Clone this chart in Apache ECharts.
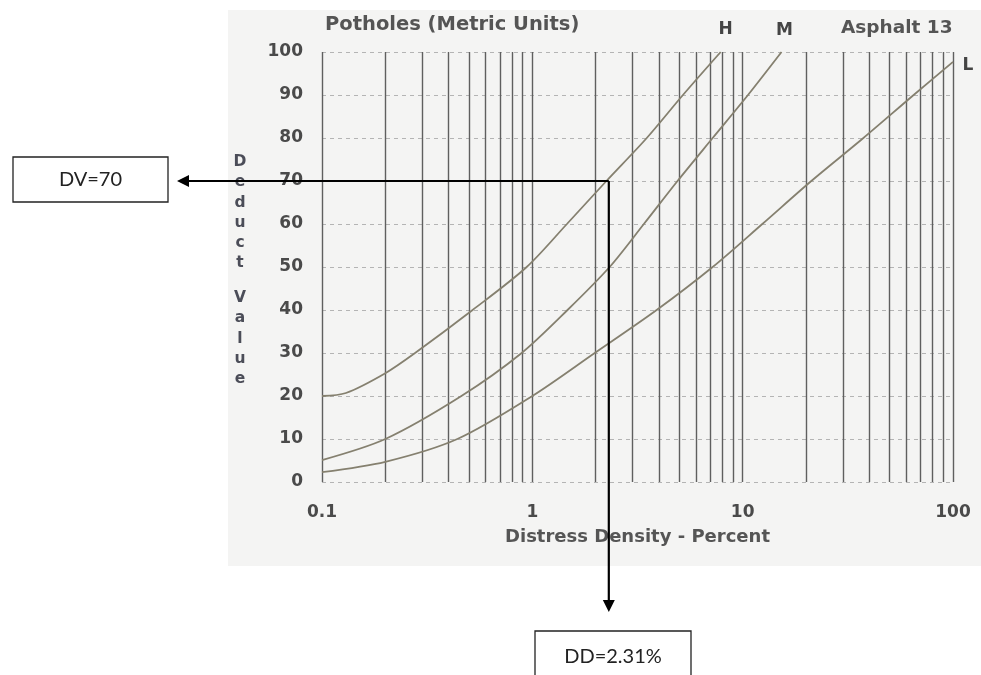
<!DOCTYPE html>
<html>
<head>
<meta charset="utf-8">
<script src="https://cdn.jsdelivr.net/npm/echarts@6/dist/echarts.min.js"></script>
<style>
html,body{margin:0;padding:0;background:#fff;}
#c{width:981px;height:675px;}
</style>
</head>
<body>
<div id="c"></div>
<script>
// ---- data ----
const hX = [0.1, 0.13, 0.2, 0.277, 0.52, 0.94, 1.46, 2.25, 3.5, 5.2, 7.86];
const hY = [20, 20.7, 25.3, 30, 40, 50, 60, 70, 80, 90, 100];
const mX = [0.1, 0.2, 0.46, 0.89, 1.47, 2.33, 3.39, 4.9, 7.2, 10.6, 15.3];
const mY = [5.1, 10, 20, 30, 40, 50, 60, 70, 80, 90, 100];
const lX = [0.1, 0.2, 0.44, 1.0, 1.98, 3.9, 7.2, 12.4, 21.2, 37.5, 65, 100];
const lY = [2.3, 4.7, 10, 20, 30, 40, 50, 60, 70, 80, 90, 97.7];
const gridX = [0.1,0.2,0.3,0.4,0.5,0.6,0.7,0.8,0.9,1,2,3,4,5,6,7,8,9,10,20,30,40,50,60,70,80,90,100];
const seriesNames = ['H', 'M', 'L'];
const ddValue = 2.31;
const dvValue = 70;
const titleText = 'Potholes (Metric Units)';
const subText = 'Asphalt 13';
const xName = 'Distress Density - Percent';
const yNameWords = ['Deduct', 'Value'];

const pair = (xs, ys) => xs.map((x, i) => [x, ys[i]]);
const FONT = 'DejaVu Sans';
const curveColor = '#85806f';

const chart = echarts.init(document.getElementById('c'), null, {renderer: 'canvas'});
const curveStyle = {color: curveColor, width: 1.8};

chart.setOption({
  animation: false,
  backgroundColor: '#ffffff',
  grid: {left: 322, right: 28, top: 52, bottom: 193, containLabel: false},
  title: [
    {text: titleText, left: 320, top: 10,
     textStyle: {fontFamily: FONT, fontWeight: 'bold', fontSize: 19.5, color: '#555'}},
    {text: subText, left: 836, top: 14,
     textStyle: {fontFamily: FONT, fontWeight: 'bold', fontSize: 18.5, color: '#555'}}
  ],
  xAxis: {
    type: 'log', logBase: 10, min: 0.1, max: 100,
    name: xName, nameLocation: 'middle', nameGap: 46,
    nameTextStyle: {fontFamily: FONT, fontWeight: 'bold', fontSize: 18, color: '#555'},
    axisLine: {show: false}, axisTick: {show: false},
    splitLine: {show: false},
    axisLabel: {margin: 22, fontFamily: FONT, fontWeight: 'bold', fontSize: 17, color: '#4a4a4a',
      formatter: v => String(+Number(v).toPrecision(3))}
  },
  yAxis: {
    type: 'value', min: 0, max: 100, interval: 10,
    axisLine: {show: false}, axisTick: {show: false},
    splitLine: {show: true, lineStyle: {color: '#b4b4b4', type: [4, 4], width: 1}},
    axisLabel: {margin: 19, fontFamily: FONT, fontWeight: 'bold', fontSize: 17, color: '#4a4a4a'}
  },
  series: [
    {type: 'line', name: 'grid', data: [], silent: true,
     markLine: {silent: true, symbol: ['none', 'none'], label: {show: false},
       lineStyle: {color: '#5f5f5f', type: 'solid', width: 1.4},
       emphasis: {disabled: true},
       data: gridX.map(v => ({xAxis: v}))}},
    {type: 'line', name: seriesNames[0], data: pair(hX, hY), smooth: 0.3, showSymbol: false, lineStyle: curveStyle, z: 5},
    {type: 'line', name: seriesNames[1], data: pair(mX, mY), smooth: 0.3, showSymbol: false, lineStyle: curveStyle, z: 5},
    {type: 'line', name: seriesNames[2], data: pair(lX, lY), smooth: 0.3, showSymbol: false, lineStyle: curveStyle, z: 5}
  ]
});

// annotations positioned via the chart's own scales
const p = chart.convertToPixel({gridIndex: 0}, [ddValue, dvValue]);
const hEnd = chart.convertToPixel({gridIndex: 0}, [hX[hX.length - 1], hY[hY.length - 1]]);
const mEnd = chart.convertToPixel({gridIndex: 0}, [mX[mX.length - 1], mY[mY.length - 1]]);
const lEnd = chart.convertToPixel({gridIndex: 0}, [lX[lX.length - 1], lY[lY.length - 1]]);
const arrowLeftTip = 177, arrowDownTip = 612;
const ah = 12, aw = 6;
const lblStyle = {fontFamily: FONT, fontWeight: 'bold', fontSize: 17, fill: '#444', align: 'center', verticalAlign: 'middle'};
const boxText = {fontFamily: 'Lato', fontSize: 20, fill: '#222', align: 'center', verticalAlign: 'middle'};
const yNameStyle = {fontFamily: FONT, fontWeight: 'bold', fontSize: 15.5, lineHeight: 20.2, fill: '#4b4d58',
  align: 'center', verticalAlign: 'top'};

chart.setOption({
  graphic: [
    {type: 'rect', z: -10, silent: true, shape: {x: 228, y: 10, width: 753, height: 556}, style: {fill: '#f4f4f3'}},
    // y-axis vertical title (stacked letters)
    {type: 'text', x: 240, y: 152, z: 10,
     style: Object.assign({text: yNameWords[0].split('').join('\n')}, yNameStyle)},
    {type: 'text', x: 240, y: 288, z: 10,
     style: Object.assign({text: yNameWords[1].split('').join('\n')}, yNameStyle)},
    // curve end labels
    {type: 'text', x: hEnd[0] + 5, y: hEnd[1] - 22, z: 10, style: Object.assign({text: seriesNames[0]}, lblStyle)},
    {type: 'text', x: mEnd[0] + 3, y: mEnd[1] - 21, z: 10, style: Object.assign({text: seriesNames[1]}, lblStyle)},
    {type: 'text', x: lEnd[0] + 15, y: lEnd[1] + 4, z: 10, style: Object.assign({text: seriesNames[2]}, lblStyle)},
    // horizontal arrow to DV box
    {type: 'polyline', z: 20, silent: true,
     shape: {points: [[p[0], p[1]], [arrowLeftTip + ah - 1, p[1]]]},
     style: {stroke: '#000', lineWidth: 2.2, fill: null}},
    {type: 'polygon', z: 20, silent: true,
     shape: {points: [[arrowLeftTip, p[1]], [arrowLeftTip + ah, p[1] - aw], [arrowLeftTip + ah, p[1] + aw]]},
     style: {fill: '#000'}},
    // vertical arrow to DD box
    {type: 'polyline', z: 20, silent: true,
     shape: {points: [[p[0], p[1]], [p[0], arrowDownTip - ah + 1]]},
     style: {stroke: '#000', lineWidth: 2.2, fill: null}},
    {type: 'polygon', z: 20, silent: true,
     shape: {points: [[p[0], arrowDownTip], [p[0] - aw, arrowDownTip - ah], [p[0] + aw, arrowDownTip - ah]]},
     style: {fill: '#000'}},
    // DV box
    {type: 'rect', z: 20, shape: {x: 13, y: 157, width: 155, height: 45},
     style: {fill: '#fff', stroke: '#222', lineWidth: 1.3}},
    {type: 'text', x: 90.5, y: 180, z: 21, style: Object.assign({text: 'DV=' + dvValue}, boxText)},
    // DD box
    {type: 'rect', z: 20, shape: {x: 535, y: 631, width: 156, height: 50},
     style: {fill: '#fff', stroke: '#222', lineWidth: 1.3}},
    {type: 'text', x: 613, y: 657, z: 21, style: Object.assign({text: 'DD=' + ddValue + '%'}, boxText)}
  ]
});
</script>
</body>
</html>
